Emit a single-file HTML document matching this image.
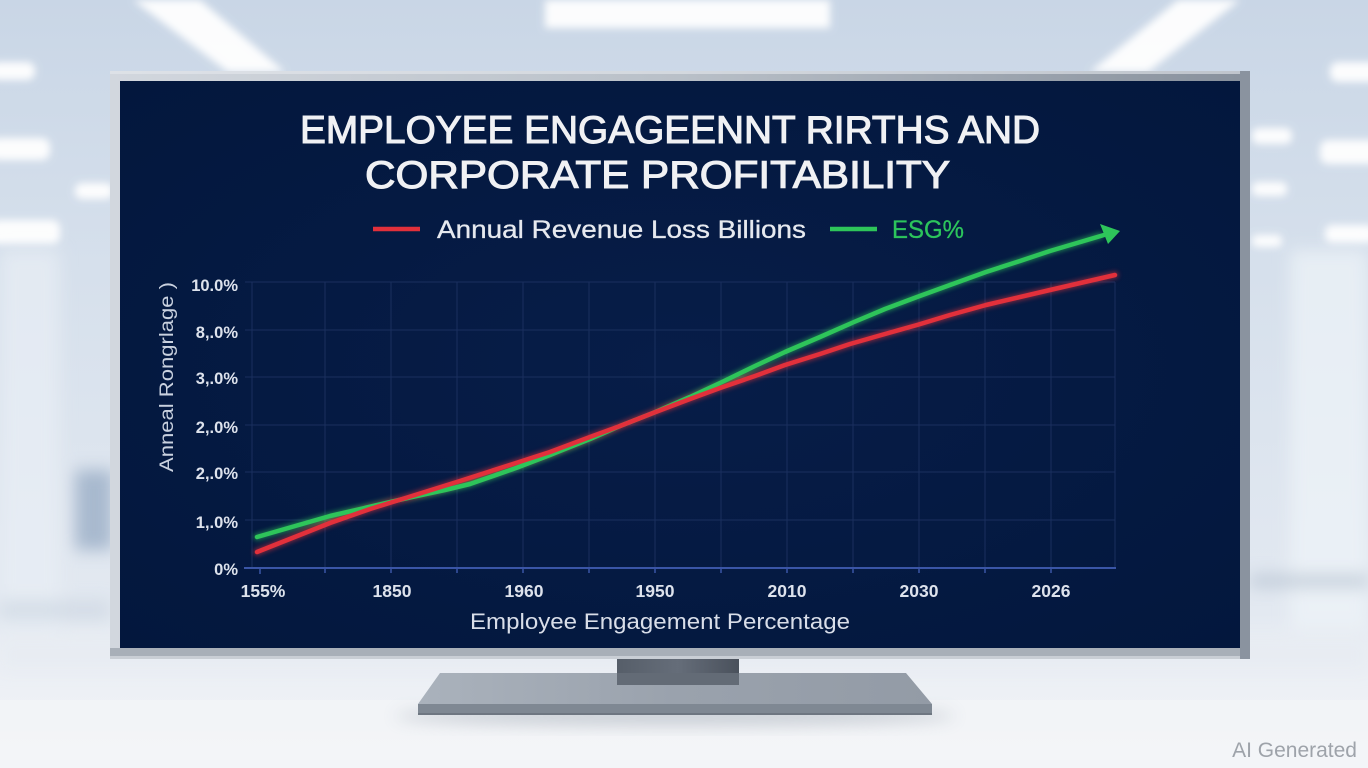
<!DOCTYPE html>
<html>
<head>
<meta charset="utf-8">
<style>
  html, body { margin:0; padding:0; width:1368px; height:768px; overflow:hidden; background:#dfe6ef; }
  svg { display:block; }
  text { font-family: "Liberation Sans", "DejaVu Sans", sans-serif; }
</style>
</head>
<body>
<svg width="1368" height="768" viewBox="0 0 1368 768" xmlns="http://www.w3.org/2000/svg">
  <defs>
    <linearGradient id="bg" x1="0" y1="0" x2="0" y2="1">
      <stop offset="0" stop-color="#c9d6e6"/>
      <stop offset="0.35" stop-color="#d6e0ec"/>
      <stop offset="0.8" stop-color="#e3e9f1"/>
      <stop offset="0.84" stop-color="#eaeef4"/>
      <stop offset="1" stop-color="#f2f4f7"/>
    </linearGradient>
    <linearGradient id="bezel" x1="0" y1="0" x2="1" y2="0">
      <stop offset="0" stop-color="#d2d7de"/>
      <stop offset="0.5" stop-color="#b9c0c8"/>
      <stop offset="1" stop-color="#87909c"/>
    </linearGradient>
    <radialGradient id="screen" cx="0.5" cy="0.5" r="0.7">
      <stop offset="0" stop-color="#071d48"/>
      <stop offset="1" stop-color="#03173d"/>
    </radialGradient>
    <linearGradient id="neck" x1="0" y1="0" x2="1" y2="0">
      <stop offset="0" stop-color="#565e69"/>
      <stop offset="0.5" stop-color="#656d79"/>
      <stop offset="1" stop-color="#4a515c"/>
    </linearGradient>
    <linearGradient id="base" x1="0" y1="0" x2="1" y2="0">
      <stop offset="0" stop-color="#aab2bc"/>
      <stop offset="0.5" stop-color="#9aa2ad"/>
      <stop offset="1" stop-color="#939ba6"/>
    </linearGradient>
    <filter id="blur8" x="-50%" y="-50%" width="200%" height="200%"><feGaussianBlur stdDeviation="8"/></filter>
    <filter id="blur4" x="-50%" y="-50%" width="200%" height="200%"><feGaussianBlur stdDeviation="4"/></filter>
    <filter id="blur2" x="-50%" y="-50%" width="200%" height="200%"><feGaussianBlur stdDeviation="2.5"/></filter>
  </defs>

  <!-- Background -->
  <rect x="0" y="0" width="1368" height="768" fill="url(#bg)"/>
  <g fill="#ffffff" filter="url(#blur4)" opacity="0.95">
    <polygon points="133,0 200,0 285,72 228,72"/>
    <polygon points="1178,0 1240,0 1148,72 1090,72"/>
    <rect x="545" y="0" width="285" height="28"/>
    <rect x="-10" y="62" width="45" height="18" rx="8"/>
    <rect x="-10" y="138" width="60" height="22" rx="8"/>
    <rect x="75" y="183" width="38" height="16" rx="7"/>
    <rect x="-10" y="220" width="70" height="24" rx="8"/>
    <rect x="1330" y="62" width="50" height="20" rx="8"/>
    <rect x="1252" y="128" width="40" height="16" rx="7"/>
    <rect x="1320" y="140" width="60" height="24" rx="8"/>
    <rect x="1252" y="182" width="35" height="14" rx="6"/>
    <rect x="1325" y="225" width="50" height="18" rx="7"/>
    <rect x="1252" y="235" width="30" height="12" rx="5"/>
  </g>
  <g filter="url(#blur8)">
    <rect x="75" y="470" width="38" height="80" fill="#9aaec6" opacity="0.8"/>
    <rect x="0" y="250" width="60" height="380" fill="#e8eef5" opacity="0.7"/>
    <rect x="1290" y="250" width="78" height="380" fill="#eef3f8" opacity="0.7"/>
    <rect x="1250" y="575" width="118" height="12" fill="#b7c3d1" opacity="0.8"/>
    <rect x="0" y="600" width="110" height="20" fill="#c9d3df" opacity="0.6"/>
    <rect x="0" y="640" width="1368" height="30" fill="#e6ebf2" opacity="0.6"/>
  </g>
  <rect x="0" y="700" width="1368" height="68" fill="#f3f5f8" opacity="0.7"/>

  <!-- Stand -->
  <ellipse cx="675" cy="716" rx="280" ry="10" fill="#9aa3ae" opacity="0.45" filter="url(#blur8)"/>
  <rect x="617" y="655" width="122" height="30" fill="url(#neck)"/>
  <polygon points="440,673 906,673 932,704 418,704" fill="url(#base)"/>
  <rect x="617" y="673" width="122" height="12" fill="#636b76"/>
  <rect x="418" y="704" width="514" height="10" fill="#7f8893"/>
  <rect x="418" y="713" width="514" height="2" fill="#6e7681"/>

  <!-- Monitor bezel -->
  <rect x="110" y="71" width="1140" height="588" fill="url(#bezel)"/>
  <rect x="110" y="71" width="1140" height="3" fill="#e4e8ed" opacity="0.6"/>
  <rect x="110" y="648" width="1140" height="11" fill="#a8afb8"/>
  <rect x="110" y="656" width="1140" height="3" fill="#c9ced5"/>
  <rect x="1240" y="71" width="10" height="588" fill="#8a939f"/>
  <rect x="120" y="81" width="1120" height="567" fill="url(#screen)"/>

  <!-- Title -->
  <g fill="#f0f1f4" stroke="#f0f1f4" stroke-width="1.1" font-size="39">
    <text x="300" y="143" textLength="740" lengthAdjust="spacingAndGlyphs">EMPLOYEE ENGAGEENNT RIRTHS AND</text>
    <text x="365" y="188" textLength="585" lengthAdjust="spacingAndGlyphs">CORPORATE PROFITABILITY</text>
  </g>

  <!-- Legend -->
  <line x1="373" y1="229" x2="420" y2="229" stroke="#e2303b" stroke-width="4.5"/>
  <text x="437" y="238" font-size="25" fill="#e6e9ef" stroke="#e6e9ef" stroke-width="0.3" textLength="369" lengthAdjust="spacingAndGlyphs">Annual Revenue Loss Billions</text>
  <line x1="830" y1="229" x2="877" y2="229" stroke="#2ec55a" stroke-width="4.5"/>
  <text x="892" y="238" font-size="25" fill="#2cc45c" stroke="#2cc45c" stroke-width="0.3" textLength="72" lengthAdjust="spacingAndGlyphs">ESG%</text>

  <!-- Grid -->
  <g stroke="#1a2f5e" stroke-width="1">
    <line x1="245" y1="282" x2="1115" y2="282"/>
    <line x1="245" y1="330" x2="1115" y2="330"/>
    <line x1="245" y1="377" x2="1115" y2="377"/>
    <line x1="245" y1="425" x2="1115" y2="425"/>
    <line x1="245" y1="472" x2="1115" y2="472"/>
    <line x1="245" y1="520" x2="1115" y2="520"/>
    <line x1="252" y1="282" x2="252" y2="568"/>
    <line x1="325" y1="282" x2="325" y2="568"/>
    <line x1="391" y1="282" x2="391" y2="568"/>
    <line x1="457" y1="282" x2="457" y2="568"/>
    <line x1="523" y1="282" x2="523" y2="568"/>
    <line x1="589" y1="282" x2="589" y2="568"/>
    <line x1="655" y1="282" x2="655" y2="568"/>
    <line x1="721" y1="282" x2="721" y2="568"/>
    <line x1="787" y1="282" x2="787" y2="568"/>
    <line x1="853" y1="282" x2="853" y2="568"/>
    <line x1="919" y1="282" x2="919" y2="568"/>
    <line x1="985" y1="282" x2="985" y2="568"/>
    <line x1="1051" y1="282" x2="1051" y2="568"/>
    <line x1="1115" y1="282" x2="1115" y2="568"/>
  </g>
  <line x1="244" y1="568" x2="1116" y2="568" stroke="#3a55a6" stroke-width="2"/>
  <g stroke="#3a55a6" stroke-width="1.5">
    <line x1="260" y1="568" x2="260" y2="574"/>
    <line x1="325" y1="568" x2="325" y2="573"/>
    <line x1="391" y1="568" x2="391" y2="573"/>
    <line x1="457" y1="568" x2="457" y2="573"/>
    <line x1="523" y1="568" x2="523" y2="573"/>
    <line x1="589" y1="568" x2="589" y2="573"/>
    <line x1="655" y1="568" x2="655" y2="573"/>
    <line x1="721" y1="568" x2="721" y2="573"/>
    <line x1="787" y1="568" x2="787" y2="573"/>
    <line x1="853" y1="568" x2="853" y2="573"/>
    <line x1="919" y1="568" x2="919" y2="573"/>
    <line x1="985" y1="568" x2="985" y2="573"/>
    <line x1="1051" y1="568" x2="1051" y2="573"/>
  </g>

  <!-- Y tick labels -->
  <g font-size="16.5" font-weight="bold" fill="#dde2ec" text-anchor="end">
    <text x="238" y="291">10.0%</text>
    <text x="238" y="338">8,.0%</text>
    <text x="238" y="384">3,.0%</text>
    <text x="238" y="433">2,.0%</text>
    <text x="238" y="479">2,.0%</text>
    <text x="238" y="528">1,.0%</text>
    <text x="238" y="575">0%</text>
  </g>
  <text transform="translate(173,472) rotate(-90)" font-size="19.5" fill="#c9d1df" textLength="190" lengthAdjust="spacingAndGlyphs">Anneal Rongrlage )</text>

  <!-- X tick labels -->
  <g font-size="17.5" font-weight="bold" fill="#dde2ec" text-anchor="middle">
    <text x="263" y="597">155%</text>
    <text x="392" y="597">1850</text>
    <text x="524" y="597">1960</text>
    <text x="655" y="597">1950</text>
    <text x="787" y="597">2010</text>
    <text x="919" y="597">2030</text>
    <text x="1051" y="597">2026</text>
  </g>
  <text x="470" y="629" font-size="22" fill="#d9dee9" textLength="380" lengthAdjust="spacingAndGlyphs">Employee Engagement Percentage</text>

  <!-- Series glow -->
  <g fill="none" stroke-linecap="round" stroke-linejoin="round" filter="url(#blur2)" opacity="0.55">
    <polyline stroke="#2ec55a" stroke-width="7" points="257,537 330,516 412,497 445,490 470,484 516,468 550,455 590,439 620,426 653,413 690,397 720,383 755,366 785,352 820,337 854,322 885,309 917,297 950,285 986,272 1020,261 1050,251 1100,236"/>
    <polyline stroke="#e2303b" stroke-width="7" points="257,552 330,523 370,509 412,496 460,481 516,463 550,452 590,437 620,426 653,413 690,399 720,388 755,376 785,365 820,354 850,344 885,334 917,325 950,315 986,305 1050,290 1115,275"/>
  </g>
  <g fill="none" stroke-linecap="round" stroke-linejoin="round">
    <polyline stroke="#2ec55a" stroke-width="4.5" points="257,537 330,516 412,497 445,490 470,484 516,468 550,455 590,439 620,426 653,413 690,397 720,383 755,366 785,352 820,337 854,322 885,309 917,297 950,285 986,272 1020,261 1050,251 1104,235"/>
    <polyline stroke="#e2303b" stroke-width="4.5" points="257,552 330,523 370,509 412,496 460,481 516,463 550,452 590,437 620,426 653,413 690,399 720,388 755,376 785,365 820,354 850,344 885,334 917,325 950,315 986,305 1050,290 1115,275"/>
  </g>
  <polygon points="1120,231 1100,224 1108,244" fill="#2ec55a"/>

  <text x="1357" y="757" font-size="21" fill="#9ea3aa" text-anchor="end">AI Generated</text>
</svg>
</body>
</html>
